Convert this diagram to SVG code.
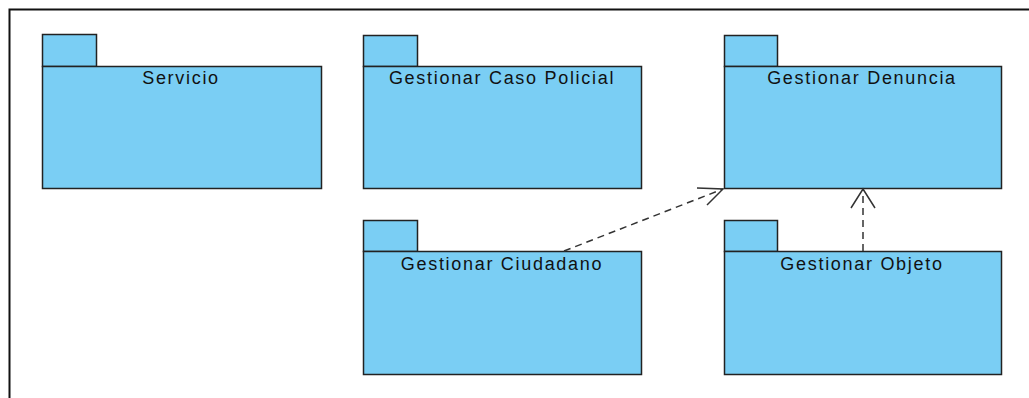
<svg xmlns="http://www.w3.org/2000/svg" width="1029" height="398" viewBox="0 0 1029 398">
  <style>
    .pkg rect { fill: #7acef4; stroke: #222; stroke-width: 1.5; }
    .pkg text { font-family: "Liberation Sans", Arial, sans-serif; font-size: 18px; letter-spacing: 1.7px; fill: #111; text-anchor: middle; }
    .dep { fill: none; stroke: #333; stroke-width: 1.5; stroke-dasharray: 7 5; }
    .head { fill: none; stroke: #333; stroke-width: 1.5; }
  </style>
  <rect x="0" y="0" width="1029" height="398" fill="#fff"/>
  <!-- frame -->
  <path d="M9.5 398 V9.5 H1029" fill="none" stroke="#111" stroke-width="2"/>

  <g id="servicio" class="pkg">
    <rect x="42.5" y="34.5" width="54" height="32"/>
    <rect x="42.5" y="66.5" width="279" height="122"/>
    <text x="181" y="84">Servicio</text>
  </g>
  <g id="gestionar-caso-policial" class="pkg">
    <rect x="363.5" y="35.5" width="54" height="31"/>
    <rect x="363.5" y="66.5" width="278" height="122"/>
    <text x="502" y="84">Gestionar Caso Policial</text>
  </g>
  <g id="gestionar-denuncia" class="pkg">
    <rect x="724.5" y="35.5" width="53" height="31"/>
    <rect x="724.5" y="66.5" width="277" height="122"/>
    <text x="862" y="84">Gestionar Denuncia</text>
  </g>
  <g id="gestionar-ciudadano" class="pkg">
    <rect x="363.5" y="220.5" width="54" height="31"/>
    <rect x="363.5" y="251.5" width="278" height="123"/>
    <text x="502" y="270">Gestionar Ciudadano</text>
  </g>
  <g id="gestionar-objeto" class="pkg">
    <rect x="724.5" y="220.5" width="53" height="31"/>
    <rect x="724.5" y="251.5" width="277" height="123"/>
    <text x="862" y="270">Gestionar Objeto</text>
  </g>

  <g id="connectors">
    <path class="dep" d="M564 251 L723 189"/>
    <path class="head" d="M697 188 L723 189 L707 205"/>
    <path class="dep" d="M863 251 V189"/>
    <path class="head" d="M851 208 L863 189 L875 208"/>
  </g>
</svg>
